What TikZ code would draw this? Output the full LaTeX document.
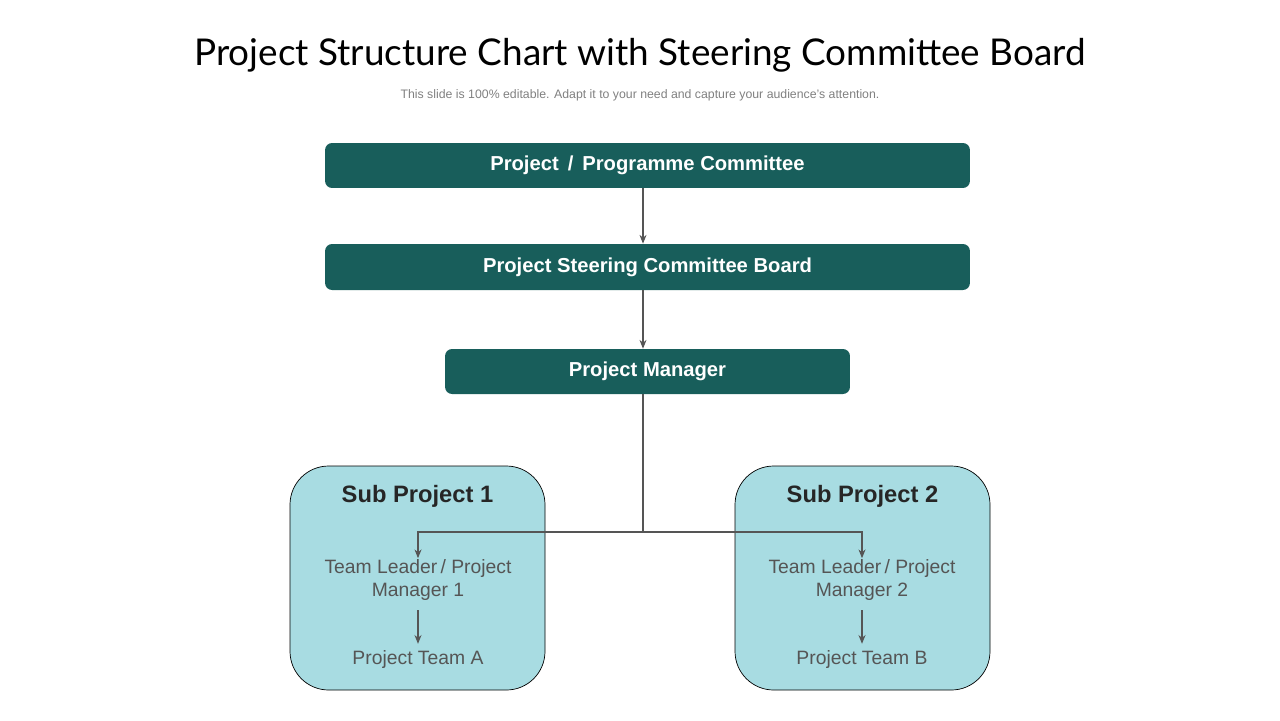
\documentclass[tikz,border=0pt]{standalone}
\usepackage{fontspec}
\setmainfont{Liberation Sans}
\newfontfamily\titlefont{Lato}
\usetikzlibrary{arrows.meta,positioning}
\definecolor{darkteal}{HTML}{185E5B}
\definecolor{lightteal}{HTML}{A8DCE2}
\definecolor{linegray}{HTML}{555555}
\definecolor{textgray}{HTML}{555555}

\begin{document}
\begin{tikzpicture}[x=0.02cm,y=-0.02cm]
	\tikzset{headbox/.style={fill=darkteal, text=white, rounded corners=4pt, font=\fontsize{11.5}{13}\selectfont\bfseries, inner sep=0pt},
		subbox/.style={fill=lightteal, rounded corners=22pt},
		conn/.style={linegray, line width=0.6pt, -{Stealth[length=5pt,width=4pt]}},
		teamtext/.style={text=textgray, align=center, font=\fontsize{11}{13.5}\selectfont}}

	\useasboundingbox (0,0) rectangle (1280,720);

	% title
	\node (title) at (640,55) {\titlefont\fontsize{21}{24}\selectfont Project Structure Chart with Steering Committee Board};
	\node[text=gray] (subtitle) at (640,95) {\fontsize{7}{8}\selectfont This slide is 100\% editable. Adapt it to your need and capture your audience's attention.};

	% top boxes
	\node[headbox, minimum width=645\pgflinewidth*0+12.9cm, minimum height=0.9cm] (committee) at (647.5,165.5) {Project\, /\, Programme Committee};
	\node[headbox, minimum width=12.9cm, minimum height=0.92cm] (steering) at (647.5,267) {Project Steering Committee Board};
	\node[headbox, minimum width=8.1cm, minimum height=0.9cm] (manager) at (647.5,371.5) {Project Manager};

	% sub projects
	\draw[subbox] (290,466) rectangle (545,690);
	\draw[subbox] (735,466) rectangle (990,690);
	\node[font=\fontsize{13.5}{15}\selectfont\bfseries, text=black!85] (sub1) at (417.5,496) {Sub Project 1};
	\node[font=\fontsize{13.5}{15}\selectfont\bfseries, text=black!85] (sub2) at (862.5,496) {Sub Project 2};

	\node[teamtext] (lead1) at (418,580) {Team Leader\,/ Project\\Manager 1};
	\node[teamtext] (lead2) at (862,580) {Team Leader\,/ Project\\Manager 2};
	\node[teamtext] (teamA) at (418,659) {Project Team A};
	\node[teamtext] (teamB) at (862,659) {Project Team B};

	% connectors
	\coordinate (split) at (643,532);
	\draw[conn] (committee.south -| split) -- (steering.north -| split);
	\draw[conn] (steering.south -| split) -- (manager.north -| split);
	\draw[linegray, line width=0.6pt] (manager.south -| split) -- (split);
	\draw[conn] (split) -| ([yshift=-3pt]lead1.north);
	\draw[conn] (split) -| ([yshift=-3pt]lead2.north);
	\draw[conn] (418,610) -- (teamA.north);
	\draw[conn] (862,610) -- (teamB.north);
\end{tikzpicture}
\end{document}
